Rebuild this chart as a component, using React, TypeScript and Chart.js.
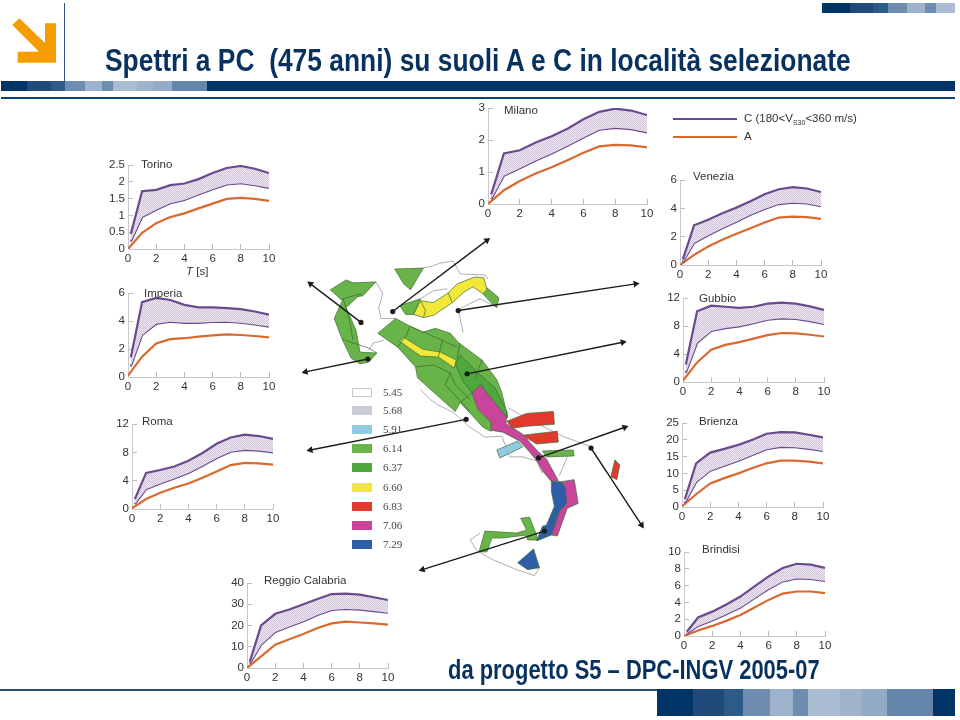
import React, { useEffect, useLayoutEffect, useRef } from "react";
import { Chart, registerables } from "chart.js";

Chart.register(...registerables);

/* ---------- spectra data (periods in s, spectral displacement in cm) ---------- */
const periodsC = [0.2, 1, 2, 3, 4, 5, 6, 7, 8, 9, 10];
const periodsA = [0, 1, 2, 3, 4, 5, 6, 7, 8, 9, 10];
const xTicks = [0, 2, 4, 6, 8, 10];

const torinoUp = [0.45, 1.72, 1.76, 1.9, 1.95, 2.08, 2.26, 2.41, 2.47, 2.39, 2.26];
const torinoLo = [0.22, 0.95, 1.17, 1.36, 1.46, 1.62, 1.78, 1.92, 1.96, 1.9, 1.82];
const torinoA = [0, 0.48, 0.77, 0.95, 1.06, 1.21, 1.35, 1.49, 1.52, 1.49, 1.43];

const milanoUp = [0.3, 1.58, 1.68, 1.92, 2.12, 2.35, 2.65, 2.88, 2.98, 2.92, 2.78];
const milanoLo = [0.15, 0.88, 1.12, 1.36, 1.58, 1.82, 2.08, 2.32, 2.38, 2.34, 2.24];
const milanoA = [0, 0.43, 0.72, 0.95, 1.15, 1.37, 1.6, 1.8, 1.85, 1.83, 1.77];

const veneziaUp = [0.4, 2.8, 3.2, 3.65, 4.05, 4.5, 5.0, 5.35, 5.5, 5.4, 5.15];
const veneziaLo = [0.2, 1.55, 2.1, 2.6, 3.05, 3.55, 3.95, 4.3, 4.4, 4.35, 4.15];
const veneziaA = [0, 0.72, 1.3, 1.78, 2.2, 2.6, 3.0, 3.35, 3.42, 3.38, 3.25];

const imperiaUp = [1.4, 5.35, 5.65, 5.5, 5.15, 4.98, 4.98, 4.92, 4.85, 4.68, 4.45];
const imperiaLo = [0.75, 3.0, 3.8, 3.95, 3.87, 3.87, 3.93, 3.95, 3.88, 3.75, 3.6];
const imperiaA = [0.1, 1.45, 2.4, 2.7, 2.77, 2.88, 2.97, 3.05, 3.0, 2.93, 2.83];

const romaUp = [1.4, 5.1, 5.5, 6.0, 6.8, 7.9, 9.2, 10.1, 10.5, 10.3, 9.9];
const romaLo = [0.7, 2.8, 3.6, 4.3, 5.1, 6.1, 7.2, 8.1, 8.35, 8.25, 8.0];
const romaA = [0.1, 1.4, 2.3, 3.0, 3.6, 4.4, 5.3, 6.2, 6.5, 6.45, 6.25];

const gubbioUp = [2.5, 10.1, 10.9, 10.75, 10.6, 10.75, 11.2, 11.35, 11.2, 10.8, 10.3];
const gubbioLo = [1.3, 5.6, 7.3, 7.7, 7.95, 8.4, 8.9, 9.1, 9.0, 8.7, 8.3];
const gubbioA = [0.2, 2.8, 4.6, 5.3, 5.7, 6.2, 6.7, 7.0, 6.95, 6.75, 6.5];

const brienzaUp = [2.3, 13, 16.2, 17.3, 18.5, 20, 21.8, 22.3, 22.2, 21.5, 20.7];
const brienzaLo = [1.2, 7.4, 10.8, 12.3, 13.8, 15.5, 17.2, 17.9, 17.8, 17.3, 16.7];
const brienzaA = [0.2, 3.8, 7, 8.6, 10, 11.6, 13, 13.8, 13.8, 13.5, 13];

const reggioUp = [3, 20, 25.5, 27.5, 30, 32.5, 34.8, 35, 34.5, 33.3, 32];
const reggioLo = [2, 11, 17, 19.5, 22, 25, 27.3, 27.8, 27.5, 26.8, 26];
const reggioA = [0, 5.5, 11, 13.5, 16, 18.8, 21, 21.8, 21.4, 21, 20.4];

const brindisiUp = [0.5, 2.2, 2.9, 3.75, 4.7, 5.9, 7.1, 8.1, 8.6, 8.5, 8.1];
const brindisiLo = [0.3, 1.2, 1.85, 2.6, 3.4, 4.5, 5.6, 6.5, 6.85, 6.8, 6.55];
const brindisiA = [0, 0.65, 1.2, 1.8, 2.5, 3.4, 4.3, 5.05, 5.3, 5.3, 5.1];

type PanelDef = {
  name: string; up: number[]; lo: number[]; a: number[];
  yMax: number; yStep: number;
  x0: number; x10: number; y0: number; yTop: number; tx: number; ty: number;
};

const panels: PanelDef[] = [
  { name: "Torino", up: torinoUp, lo: torinoLo, a: torinoA, yMax: 2.5, yStep: 0.5, x0: 128, x10: 269, y0: 248.5, yTop: 164.7, tx: 141, ty: 164 },
  { name: "Milano", up: milanoUp, lo: milanoLo, a: milanoA, yMax: 3, yStep: 1, x0: 488.3, x10: 647.3, y0: 204, yTop: 108, tx: 504, ty: 110 },
  { name: "Venezia", up: veneziaUp, lo: veneziaLo, a: veneziaA, yMax: 6, yStep: 2, x0: 680, x10: 821, y0: 264.5, yTop: 180, tx: 693, ty: 176 },
  { name: "Imperia", up: imperiaUp, lo: imperiaLo, a: imperiaA, yMax: 6, yStep: 2, x0: 128.3, x10: 269.3, y0: 377.7, yTop: 293.3, tx: 144, ty: 293 },
  { name: "Roma", up: romaUp, lo: romaLo, a: romaA, yMax: 12, yStep: 4, x0: 132.3, x10: 273.3, y0: 509, yTop: 424.3, tx: 142, ty: 421 },
  { name: "Gubbio", up: gubbioUp, lo: gubbioLo, a: gubbioA, yMax: 12, yStep: 4, x0: 683.3, x10: 824.3, y0: 381.7, yTop: 297.7, tx: 699, ty: 297.7 },
  { name: "Brienza", up: brienzaUp, lo: brienzaLo, a: brienzaA, yMax: 25, yStep: 5, x0: 682.3, x10: 823.3, y0: 506.7, yTop: 422.7, tx: 699, ty: 421 },
  { name: "Reggio Calabria", up: reggioUp, lo: reggioLo, a: reggioA, yMax: 40, yStep: 10, x0: 246.7, x10: 387.3, y0: 667.3, yTop: 582.7, tx: 264, ty: 580 },
  { name: "Brindisi", up: brindisiUp, lo: brindisiLo, a: brindisiA, yMax: 10, yStep: 2, x0: 684, x10: 825, y0: 635.7, yTop: 551.7, tx: 702, ty: 549 },
];

/* ---------- map data: zones in sheet units (x, y) ---------- */
type P = [number, number];
const C614 = "#69b449", C637 = "#4ea83d", C660 = "#f2e838", C683 = "#e03a2e", C706 = "#c8459b", C729 = "#2f5ea8", C591 = "#90cbe6";

const westTop: P[] = [[329,289],[345,279],[352,282],[375,281],[362,295],[340,299]];
const westArc: P[] = [[342,298],[360,293],[345,307],[355,330],[359,352],[376,353],[368,362],[359,364],[350,358],[341,339],[333,318]];
const lombTop: P[] = [[394,268],[423,267],[410,289],[403,283]];
const midGreen: P[] = [[399,305],[420,298],[413,314],[405,314]];
const yellowNorth: P[] = [[420,300],[433,302],[448,292],[457,283],[475,276],[484,277],[487,289],[483,293],[473,286],[463,292],[452,302],[433,315],[423,317],[413,314]];
const rightGreen: P[] = [[487,287],[499,297],[497,307],[492,303],[483,293]];
const apennine: P[] = [[377,333],[395,318],[410,326],[422,332],[435,328],[450,333],[459,343],[482,360],[497,380],[502,393],[508,418],[491,432],[483,428],[460,403],[455,412],[417,378],[415,367],[397,347]];
const apennineDark: P[] = [[455,363],[460,355],[480,375],[495,388],[507,412],[507,418],[503,422],[482,385],[472,393],[463,382]];
const yellowCentral: P[] = [[399,341],[403,337],[422,349],[440,352],[456,360],[454,368],[438,357],[420,356]];
const pinkMain: P[] = [[472,394],[480,385],[495,403],[507,418],[506,424],[523,435],[538,452],[547,460],[559,482],[552,483],[543,472],[538,463],[530,453],[520,442],[503,433],[491,431],[491,423],[478,410]];
const pinkEast: P[] = [[562,483],[575,481],[579,505],[568,510],[558,538],[552,537],[560,513],[567,505],[566,490]];
const blueCalabria: P[] = [[552,483],[562,483],[566,490],[567,505],[560,513],[552,537],[537,543],[543,528],[547,527],[555,508],[552,493]];
const blueSicily: P[] = [[518,565],[534,551],[540,570],[528,572]];
const greenSouth: P[] = [[485,533],[517,535],[527,532],[521,520],[530,519],[537,537],[538,542],[528,542],[527,537],[503,540],[492,540],[487,554],[479,554]];
const redOne: P[] = [[507,422],[527,414],[554,412],[555,425],[527,427],[513,429]];
const redTwo: P[] = [[523,436],[558,432],[559,443],[537,445]];
const redThree: P[] = [[616,461],[621,466],[618,481],[612,478]];
const lightBlue: P[] = [[497,451],[518,442],[523,448],[500,459]];
const greenStrip: P[] = [[543,452],[574,451],[575,457],[547,458]];

const zones: [P[], string][] = [
  [westTop, C614], [westArc, C614], [lombTop, C614], [midGreen, C614], [rightGreen, C614],
  [yellowNorth, C660], [apennine, C614], [apennineDark, C637], [yellowCentral, C660],
  [redOne, C683], [redTwo, C683], [redThree, C683], [lightBlue, C591], [greenStrip, C614],
  [greenSouth, C614], [pinkMain, C706], [pinkEast, C706], [blueCalabria, C729], [blueSicily, C729],
];

const borders: P[][] = [
  [[375,281],[382,293],[378,307],[380,318],[395,318]],
  [[368,350],[372,343],[383,340]],
  [[423,267],[432,265],[440,262],[453,260],[460,273],[485,274],[488,278]],
  [[420,298],[433,290],[447,288]],
  [[497,307],[480,298],[458,309],[463,332]],
  [[420,390],[430,400],[437,405],[453,413],[470,428],[485,438],[502,437],[510,458],[523,458],[537,462],[543,475]],
  [[508,408],[520,415],[543,427],[563,437],[590,447],[607,473]],
  [[568,458],[560,477]],
  [[480,535],[470,542],[477,553],[493,562],[517,572],[535,578],[540,570]],
];

const zoneLines: P[][] = [
  [[409,326],[406,335],[397,347]],
  [[415,367],[433,365],[450,373],[455,385],[470,400]],
  [[442,340],[438,357]],
  [[460,343],[457,358]],
  [[410,326],[435,337],[457,347]],
  [[472,393],[460,403]],
  [[341,339],[368,348],[376,353]],
  [[342,298],[348,318],[352,340]],
  [[450,373],[445,385],[470,412]],
  [[482,360],[475,378]],
  [[420,300],[425,310],[423,317]],
  [[448,292],[452,302]],
];

const arrows: [P, P][] = [
  [[360,322],[309,283]],
  [[392,311],[487,239]],
  [[458,310],[637,283]],
  [[467,374],[624,342]],
  [[367,359],[304,372]],
  [[466,420],[309,451]],
  [[539,459],[626,428]],
  [[592,449],[643,527]],
  [[545,533],[422,572]],
];

const legendValues = ["5.45", "5.68", "5.91", "6.14", "6.37", "6.60", "6.83", "7.06", "7.29"];
const legendColors = ["#ffffff", "#c9ccd4", C591, C614, C637, C660, C683, C706, C729];
const legendY = [392, 410, 429, 448, 467, 487, 506, 525, 544];

const topBar: [number, number, string][] = [[1,27,"#003366"],[27,51,"#1f4a7a"],[51,65,"#2c5a89"],[65,85,"#6f8db0"],[85,102,"#9db3cc"],[102,113,"#6f8db0"],[113,137,"#a9bcd2"],[137,153,"#9fb3ca"],[153,172,"#93abc4"],[172,207,"#6585ab"],[207,955,"#003366"]];
const topRight: [number, number, string][] = [[822,850,"#003366"],[850,873,"#1f4a7a"],[873,888,"#2c5a89"],[888,907,"#6f8db0"],[907,925,"#9db3cc"],[925,936,"#6f8db0"],[936,955,"#a9bcd2"]];
const bottomBar: [number, number, string][] = [[657,693,"#003366"],[693,724,"#1f4a7a"],[724,743,"#2c5a89"],[743,770,"#6f8db0"],[770,793,"#9db3cc"],[793,808,"#6f8db0"],[808,840,"#a9bcd2"],[840,862,"#9fb3ca"],[862,887,"#93abc4"],[887,933,"#6585ab"],[933,955,"#003366"]];

const PURPLE = "#6a4a8e";
const ORANGE = "#d9692f";
const SANS = '"Liberation Sans", Arial, sans-serif';
const NAVY = "#07325f";

const PAD_L = 30, PAD_T = 8, PAD_R = 16, PAD_B = 22;

function stipple(): CanvasPattern | string {
  const c = document.createElement("canvas");
  c.width = 2; c.height = 2;
  const g = c.getContext("2d");
  if (!g) return "#dcd3e2";
  g.fillStyle = "#f0ebf2"; g.fillRect(0, 0, 2, 2);
  g.fillStyle = "#cfc2d8"; g.fillRect(0, 0, 1, 1); g.fillRect(1, 1, 1, 1);
  return g.createPattern(c, "repeat") || "#dcd3e2";
}

function zeroPad(s: any) {
  s.paddingTop = 0; s.paddingBottom = 0; s.paddingLeft = 0; s.paddingRight = 0;
}

function Panel({ def }: { def: PanelDef }) {
  const ref = useRef<HTMLCanvasElement>(null);
  useEffect(() => {
    if (!ref.current) return;
    const chart = new Chart(ref.current, {
      type: "scatter",
      data: {
        datasets: [
          { label: "C sup", data: periodsC.map((x, i) => ({ x, y: def.up[i] })), showLine: true, borderColor: PURPLE, borderWidth: 2.2, pointRadius: 0, fill: "+1", backgroundColor: stipple() as any },
          { label: "C inf", data: periodsC.map((x, i) => ({ x, y: def.lo[i] })), showLine: true, borderColor: PURPLE, borderWidth: 2.2, pointRadius: 0 },
          { label: "A", data: periodsA.map((x, i) => ({ x, y: def.a[i] })), showLine: true, borderColor: ORANGE, borderWidth: 2.2, pointRadius: 0 },
        ],
      },
      options: {
        animation: false,
        responsive: false,
        layout: { padding: { top: PAD_T, right: PAD_R, left: 0, bottom: 0 } },
        plugins: { legend: { display: false }, tooltip: { enabled: false } },
        scales: {
          x: {
            type: "linear", min: 0, max: 10,
            afterFit: (s: any) => { s.height = PAD_B; zeroPad(s); },
            afterBuildTicks: (s: any) => { s.ticks = xTicks.map((value) => ({ value })); },
            grid: { drawOnChartArea: false, tickLength: -5, color: "#bdbdbd" },
            border: { color: "#c8c8c8" },
            ticks: { padding: 8, color: "#333", font: { family: SANS, size: 11.5 }, maxRotation: 0, autoSkip: false, callback: (v: any) => String(v) },
          },
          y: {
            type: "linear", min: 0, max: def.yMax,
            afterFit: (s: any) => { s.width = PAD_L; zeroPad(s); },
            grid: { drawOnChartArea: false, tickLength: -5, color: "#bdbdbd" },
            border: { color: "#c8c8c8" },
            ticks: { stepSize: def.yStep, padding: 8, autoSkip: false, color: "#333", font: { family: SANS, size: 11.5 }, callback: (v: any) => String(v) },
          },
        },
      },
    } as any);
    return () => chart.destroy();
  }, [def]);
  const w = def.x10 - def.x0, h = def.y0 - def.yTop;
  return (
    <>
      <canvas
        ref={ref}
        width={Math.round(w + PAD_L + PAD_R)}
        height={Math.round(h + PAD_T + PAD_B)}
        style={{ position: "absolute", left: Math.round(def.x0 - PAD_L), top: Math.round(def.yTop - PAD_T), display: "block" }}
      />
      <div style={{ position: "absolute", left: def.tx, top: def.ty - 7, font: `11.5px/14px ${SANS}`, color: "#333", whiteSpace: "nowrap" }}>{def.name}</div>
    </>
  );
}

function MapChart() {
  const ref = useRef<HTMLCanvasElement>(null);
  useEffect(() => {
    if (!ref.current) return;
    const toXY = (p: P[]) => p.map(([x, y]) => ({ x, y }));
    const datasets: any[] = [];
    borders.forEach((b) => datasets.push({ data: toXY(b), showLine: true, borderColor: "#9a9a9a", borderWidth: 0.8, pointRadius: 0 }));
    zones.forEach(([poly, color]) => datasets.push({ data: toXY([...poly, poly[0]]), showLine: true, borderColor: "#3d6b35", borderWidth: 0.7, pointRadius: 0, fill: "shape", backgroundColor: color }));
    zoneLines.forEach((l) => datasets.push({ data: toXY(l), showLine: true, borderColor: "#2f6a2c", borderWidth: 0.7, pointRadius: 0 }));
    arrows.forEach(([a, b]) => {
      const angle = (Math.atan2(b[0] - a[0], a[1] - b[1]) * 180) / Math.PI;
      datasets.push({
        data: toXY([a, b]), showLine: true, borderColor: "#1c1c1c", borderWidth: 1.4,
        backgroundColor: "#1c1c1c", pointBorderColor: "#1c1c1c",
        pointRadius: [2.6, 4], pointBorderWidth: 0, pointStyle: ["circle", "triangle"], pointRotation: [0, angle],
      });
    });
    datasets.forEach((d, i) => { d.order = datasets.length - i; });
    const chart = new Chart(ref.current, {
      type: "scatter",
      data: { datasets },
      options: {
        animation: false,
        responsive: false,
        layout: { padding: 0 },
        plugins: { legend: { display: false }, tooltip: { enabled: false } },
        scales: {
          x: { type: "linear", min: 0, max: 960, display: false },
          y: { type: "linear", min: 0, max: 720, reverse: true, display: false },
        },
      },
    } as any);
    return () => chart.destroy();
  }, []);
  return <canvas ref={ref} width={960} height={720} style={{ position: "absolute", left: 0, top: 0, display: "block" }} />;
}

function Bar({ parts, top, height }: { parts: [number, number, string][]; top: number; height: number }) {
  return (
    <>
      {parts.map(([a, b, c], i) => (
        <div key={i} style={{ position: "absolute", left: a, top, width: b - a, height, background: c }} />
      ))}
    </>
  );
}

function FitText({ text, left, centerY, width, size }: { text: string; left: number; centerY: number; width: number; size: number }) {
  const ref = useRef<HTMLDivElement>(null);
  useLayoutEffect(() => {
    const el = ref.current;
    if (el) el.style.transform = `scaleX(${width / el.offsetWidth})`;
  }, [width]);
  return (
    <div ref={ref} style={{ position: "absolute", left, top: centerY - size * 0.6, transformOrigin: "0 0", font: `bold ${size}px/${size * 1.2}px ${SANS}`, color: NAVY, whiteSpace: "pre" }}>
      {text}
    </div>
  );
}

export default function App() {
  return (
    <div style={{ position: "fixed", left: 0, top: 0, width: 960, height: 720, background: "#fff", overflow: "hidden" }}>
      <svg width={70} height={80} style={{ position: "absolute", left: 0, top: 0 }}>
        <polygon points="12.3,25 19.3,18.3 45,43 45,23.3 56,23.3 56,62.7 17.7,62.7 17.7,51.7 39,51.7" fill="#f59c00" />
      </svg>
      <div style={{ position: "absolute", left: 63.5, top: 3, width: 1.5, height: 78, background: "#34597f" }} />
      <Bar parts={topBar} top={81} height={10} />
      <Bar parts={topRight} top={3} height={10} />
      <Bar parts={bottomBar} top={689} height={27} />
      <div style={{ position: "absolute", left: 1, top: 96.5, width: 954, height: 2, background: "#0b4474" }} />
      <div style={{ position: "absolute", left: 0, top: 689, width: 657, height: 2, background: "#28506f" }} />

      <MapChart />
      {panels.map((p) => <Panel key={p.name} def={p} />)}

      <FitText text={"Spettri a PC  (475 anni) su suoli A e C in località selezionate"} left={105} centerY={60} width={746} size={32} />
      <FitText text={"da progetto S5 – DPC-INGV 2005-07"} left={448} centerY={670} width={372} size={27} />

      <div style={{ position: "absolute", left: 186, top: 264, font: `11.5px/14px ${SANS}`, color: "#333" }}><i>T</i> [s]</div>

      <div style={{ position: "absolute", left: 673, top: 118, width: 64, height: 2, background: PURPLE }} />
      <div style={{ position: "absolute", left: 673, top: 135.5, width: 64, height: 2, background: ORANGE }} />
      <div style={{ position: "absolute", left: 744, top: 111, font: `11.5px/14px ${SANS}`, color: "#333", whiteSpace: "nowrap" }}>
        C (180&lt;V<sub style={{ fontSize: 7, lineHeight: 0 }}>S30</sub>&lt;360 m/s)
      </div>
      <div style={{ position: "absolute", left: 744, top: 129, font: `11.5px/14px ${SANS}`, color: "#333" }}>A</div>

      {legendValues.map((v, i) => (
        <React.Fragment key={v}>
          <div style={{ position: "absolute", left: 352, top: legendY[i] - 4.5, width: 20, height: 9, background: legendColors[i], boxSizing: "border-box", border: i === 0 ? "1px solid #c8c8c8" : "none" }} />
          <div style={{ position: "absolute", left: 383, top: legendY[i] - 7, font: `11px/14px "Liberation Serif", serif`, color: "#444" }}>{v}</div>
        </React.Fragment>
      ))}
    </div>
  );
}
